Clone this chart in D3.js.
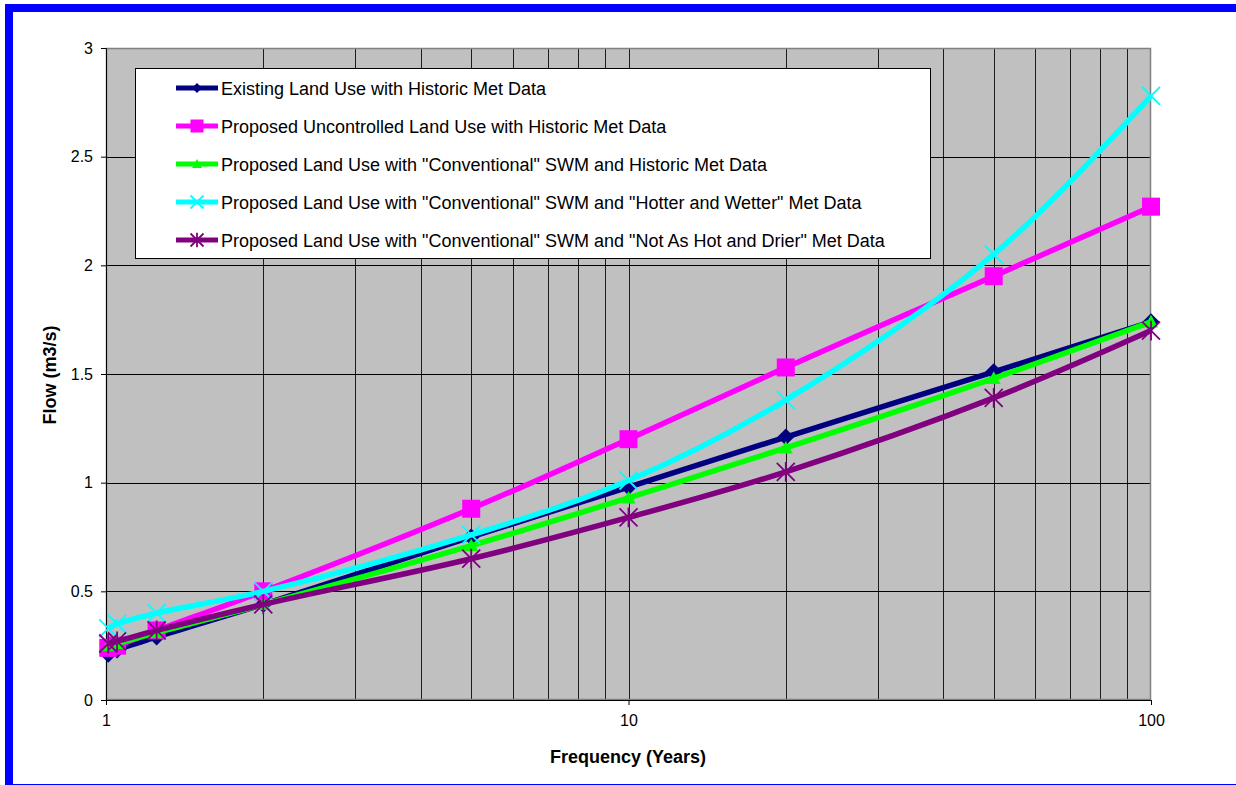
<!DOCTYPE html>
<html><head><meta charset="utf-8">
<script src="https://cdn.jsdelivr.net/npm/d3@7"></script>
<style>body{margin:0;background:#fff}svg{display:block}text{font-family:"Liberation Sans",Arial,sans-serif}</style>
</head><body><svg id="c" width="1236" height="785"></svg>
<script>
const years = [1.01, 1.05, 1.25, 2, 5, 10, 20, 50, 100];
const seriesNames = [
  "Existing Land Use with Historic Met Data",
  "Proposed Uncontrolled Land Use with Historic Met Data",
  "Proposed Land Use with \"Conventional\" SWM and Historic Met Data",
  "Proposed Land Use with \"Conventional\" SWM and \"Hotter and Wetter\" Met Data",
  "Proposed Land Use with \"Conventional\" SWM and \"Not As Hot and Drier\" Met Data"
];
const existing     = [0.21, 0.23, 0.29, 0.44, 0.75, 0.98, 1.21, 1.51, 1.74];
const uncontrolled = [0.24, 0.25, 0.32, 0.50, 0.88, 1.20, 1.53, 1.95, 2.27];
const conventional = [0.25, 0.26, 0.31, 0.44, 0.71, 0.93, 1.16, 1.48, 1.74];
const hotterWetter = [0.33, 0.35, 0.40, 0.50, 0.76, 1.01, 1.38, 2.05, 2.78];
const notAsHot     = [0.26, 0.27, 0.32, 0.44, 0.65, 0.84, 1.05, 1.39, 1.70];
const yTicks = [0, 0.5, 1, 1.5, 2, 2.5, 3];
const xTicks = [1, 10, 100];
const colors = ["#000080", "#FF00FF", "#00FF00", "#00FFFF", "#800080"];
const markers = ["diamond", "square", "triangle", "x", "star"];
const allSeries = [existing, uncontrolled, conventional, hotterWetter, notAsHot];

const svg = d3.select("#c");
svg.append("rect").attr("x",9).attr("y",8).attr("width",1232).attr("height",780)
  .attr("fill","#fff").attr("stroke","#0000FF").attr("stroke-width",8);

const L=106, R=1151, T=48, B=700;
const x = d3.scaleLog().domain([1,100]).range([L,R]);
const y = d3.scaleLinear().domain([0,3]).range([B,T]);

svg.append("rect").attr("x",L).attr("y",T).attr("width",R-L).attr("height",B-T).attr("fill","#C0C0C0");

const g = svg.append("g");
const minor = [];
for (let d=1; d<100; d*=10) for (let k=2;k<=9;k++) minor.push(d*k);
minor.push(10);
g.selectAll("line.v").data(minor).join("line")
  .attr("x1",d=>Math.round(x(d))+0.5).attr("x2",d=>Math.round(x(d))+0.5)
  .attr("y1",T).attr("y2",B).attr("stroke","#000").attr("stroke-width",1).attr("opacity",0.85);
g.selectAll("line.h").data(yTicks.slice(1,-1)).join("line")
  .attr("y1",d=>Math.round(y(d))+0.5).attr("y2",d=>Math.round(y(d))+0.5)
  .attr("x1",L).attr("x2",R).attr("stroke","#000").attr("stroke-width",1);

svg.append("rect").attr("x",L+0.5).attr("y",T+0.5).attr("width",R-L-1).attr("height",B-T-1)
  .attr("fill","none").attr("stroke","#808080").attr("stroke-width",1.5);

const yAx = svg.append("g").attr("transform",`translate(${L},0)`)
  .call(d3.axisLeft(y).tickValues(yTicks).tickSize(5).tickPadding(8).tickFormat(d3.format("")));
const xAx = svg.append("g").attr("transform",`translate(0,${B})`)
  .call(d3.axisBottom(x).tickValues(xTicks).tickSize(5).tickPadding(10).tickFormat(d3.format("")));
[yAx,xAx].forEach(a=>{a.select(".domain").attr("stroke","#000");
  a.selectAll(".tick line").attr("stroke","#000");
  a.selectAll("text").attr("font-size",16).attr("fill","#000").attr("font-family","Liberation Sans, Arial, sans-serif");});

svg.append("text").attr("x",628).attr("y",763).attr("text-anchor","middle")
  .attr("font-size",18).attr("font-weight","bold").text("Frequency (Years)");
svg.append("text").attr("transform","translate(56,375) rotate(-90)").attr("text-anchor","middle")
  .attr("font-size",18).attr("font-weight","bold").text("Flow (m3/s)");

function marker(sel, type, color, s) {
  if (type==="diamond") sel.append("path").attr("d",`M0,${-s}L${s},0L0,${s}L${-s},0Z`).attr("fill",color);
  else if (type==="square") sel.append("rect").attr("x",-s).attr("y",-s).attr("width",2*s).attr("height",2*s).attr("fill",color);
  else if (type==="triangle") sel.append("path").attr("d",`M0,${-s}L${s},${s*0.8}L${-s},${s*0.8}Z`).attr("fill",color);
  else if (type==="x") sel.append("path").attr("d",`M${-s},${-s}L${s},${s}M${-s},${s}L${s},${-s}`).attr("stroke",color).attr("stroke-width",1.8);
  else if (type==="star") sel.append("path").attr("d",`M${-s},${-s}L${s},${s}M${-s},${s}L${s},${-s}M0,${-s*1.1}L0,${s*1.1}`).attr("stroke",color).attr("stroke-width",1.8);
}
const markerSize = [8.5, 9, 7, 9, 9];
const legendMarkerSize = [5, 6.5, 5, 6.5, 6.5];

const line = d3.line().x((d,i)=>x(years[i])).y(d=>y(d)).curve(d3.curveCatmullRom.alpha(0.5));
const plot = svg.append("g");
allSeries.forEach((vals,si)=>{
  plot.append("path").attr("d",line(vals)).attr("fill","none").attr("stroke",colors[si])
    .attr("stroke-width",5.5).attr("stroke-linejoin","round");
  vals.forEach((v,i)=>{
    const m = plot.append("g").attr("transform",`translate(${x(years[i])},${y(v)})`);
    marker(m, markers[si], colors[si], markerSize[si]);
  });
});

const lg = svg.append("g");
lg.append("rect").attr("x",135.5).attr("y",68.5).attr("width",795).attr("height",190)
  .attr("fill","#fff").attr("stroke","#000").attr("stroke-width",1);
seriesNames.forEach((n,i)=>{
  const yy = 88 + i*38;
  lg.append("line").attr("x1",176).attr("x2",218).attr("y1",yy).attr("y2",yy)
    .attr("stroke",colors[i]).attr("stroke-width",5);
  const m = lg.append("g").attr("transform",`translate(197,${yy})`);
  marker(m, markers[i], colors[i], legendMarkerSize[i]);
  lg.append("text").attr("x",221).attr("y",yy+6.5).attr("font-size",18).attr("fill","#000").text(n);
});
</script></body></html>
